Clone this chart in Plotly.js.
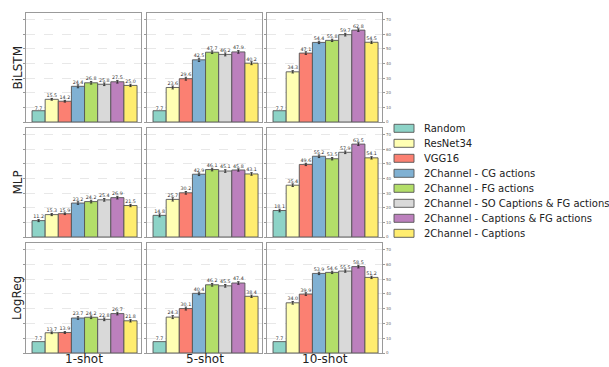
<!DOCTYPE html>
<html>
<head>
<meta charset="utf-8">
<script src="https://cdn.plot.ly/plotly-3.0.1.min.js"></script>
<style>
  html, body { margin: 0; padding: 0; background: #fff; }
  #chart { width: 609px; height: 367px; }
</style>
</head>
<body>
<div id="chart"></div>
<script>
// Methods and colours (same order as the legend)
const methods = [
  "Random",
  "ResNet34",
  "VGG16",
  "2Channel - CG actions",
  "2Channel - FG actions",
  "2Channel - SO Captions & FG actions",
  "2Channel - Captions & FG actions",
  "2Channel - Captions"
];
const methodColors = ["#8dd3c7", "#ffffb3", "#fb8072", "#80b1d3", "#b3de69", "#d9d9d9", "#bc80bd", "#ffed6f"];

const models = ["BiLSTM", "MLP", "LogReg"];
const shots = ["1-shot", "5-shot", "10-shot"];

// Accuracy values
const bilstm1Shot = [7.7, 15.5, 14.2, 24.4, 26.8, 25.8, 27.5, 25.0];
const bilstm5Shot = [7.7, 23.6, 29.6, 42.5, 47.7, 46.2, 47.9, 40.2];
const bilstm10Shot = [7.7, 34.3, 47.1, 54.4, 55.8, 59.7, 62.8, 54.5];
const mlp1Shot = [11.2, 15.3, 15.9, 23.2, 24.2, 25.4, 26.9, 21.5];
const mlp5Shot = [14.8, 25.7, 30.2, 42.9, 46.1, 45.1, 45.8, 43.1];
const mlp10Shot = [18.1, 35.4, 49.6, 55.2, 53.5, 57.9, 63.5, 54.1];
const logreg1Shot = [7.7, 13.7, 13.9, 23.7, 24.2, 22.8, 26.7, 21.8];
const logreg5Shot = [7.7, 24.3, 30.1, 40.4, 46.2, 45.5, 47.4, 38.4];
const logreg10Shot = [7.7, 34.0, 39.9, 53.9, 54.6, 55.5, 58.5, 51.2];

// Estimated error bar half-widths
const bilstm1Err = [0.0, 0.6, 0.6, 1.0, 0.9, 0.9, 0.9, 0.8];
const bilstm5Err = [0.0, 1.0, 1.0, 1.1, 0.9, 1.0, 0.9, 1.0];
const bilstm10Err = [0.0, 0.8, 0.9, 0.8, 0.8, 0.9, 0.9, 0.8];
const mlp1Err = [0.7, 0.7, 0.6, 0.9, 0.9, 0.9, 0.9, 0.8];
const mlp5Err = [1.0, 1.1, 0.9, 0.9, 0.9, 0.9, 0.8, 0.9];
const mlp10Err = [0.9, 0.9, 0.8, 0.9, 0.8, 0.9, 0.9, 0.8];
const logreg1Err = [0.0, 0.6, 0.6, 0.9, 0.9, 0.9, 0.9, 0.8];
const logreg5Err = [0.0, 1.0, 1.0, 0.9, 0.9, 0.9, 0.9, 0.8];
const logreg10Err = [0.0, 0.9, 0.9, 0.8, 0.8, 0.8, 0.9, 0.8];

const panelValues = [
  [bilstm1Shot, bilstm5Shot, bilstm10Shot],
  [mlp1Shot, mlp5Shot, mlp10Shot],
  [logreg1Shot, logreg5Shot, logreg10Shot]
];
const panelErrors = [
  [bilstm1Err, bilstm5Err, bilstm10Err],
  [mlp1Err, mlp5Err, mlp10Err],
  [logreg1Err, logreg5Err, logreg10Err]
];

const W = 609, H = 367;
// panel pixel boxes
const colBox = [[26, 141], [147, 262], [267, 382]];
const rowBox = [[13, 122], [128, 237], [243, 353]];

const traces = [];
const layout = {
  width: W,
  height: H,
  margin: { l: 0, r: 0, t: 0, b: 0 },
  paper_bgcolor: "#ffffff",
  plot_bgcolor: "#ffffff",
  font: { family: "DejaVu Sans, sans-serif", color: "#222" },
  barmode: "overlay",
  showlegend: false,
  annotations: [],
  shapes: []
};

for (let r = 0; r < 3; r++) {
  for (let c = 0; c < 3; c++) {
    const p = r * 3 + c + 1;
    const xName = p === 1 ? "x" : "x" + p;
    const yName = p === 1 ? "y" : "y" + p;
    const values = panelValues[r][c];
    const errs = panelErrors[r][c];

    methods.forEach((name, m) => {
      traces.push({
        type: "bar",
        x: [m],
        y: [values[m]],
        width: 1,
        name: name,
        xaxis: xName,
        yaxis: yName,
        marker: { color: methodColors[m], line: { color: "#555555", width: 0.9 } },
        error_y: {
          type: "data",
          array: [errs[m]],
          visible: errs[m] > 0,
          color: "#222222",
          thickness: 0.8,
          width: 1.2
        },
        hoverinfo: "skip"
      });
    });

    traces.push({
      type: "scatter",
      mode: "text",
      x: values.map((v, i) => i),
      y: values.map((v, i) => v + errs[i]),
      text: values.map((v) => v.toFixed(1)),
      textposition: "top center",
      textfont: { size: 4.8, color: "#333333" },
      hoverinfo: "skip",
      cliponaxis: false,
      xaxis: xName,
      yaxis: yName
    });

    const xKey = p === 1 ? "xaxis" : "xaxis" + p;
    const yKey = p === 1 ? "yaxis" : "yaxis" + p;
    layout[xKey] = {
      domain: [colBox[c][0] / W, colBox[c][1] / W],
      anchor: yName,
      range: [-0.96, 7.8],
      showticklabels: false,
      ticks: "",
      showgrid: false,
      zeroline: false,
      showline: true,
      mirror: true,
      linecolor: "#9a9a9a",
      linewidth: 1.2,
      fixedrange: true
    };
    layout[yKey] = {
      domain: [1 - rowBox[r][1] / H, 1 - rowBox[r][0] / H],
      anchor: xName,
      range: [0, 74.5],
      dtick: 10,
      showgrid: true,
      gridcolor: "#e2e2e2",
      griddash: "dash",
      gridwidth: 0.8,
      zeroline: false,
      showline: true,
      mirror: c === 2 ? "ticks" : true,
      linecolor: "#9a9a9a",
      linewidth: 1.2,
      ticks: "outside",
      ticklen: 2,
      tickcolor: "#9a9a9a",
      side: c === 2 ? "right" : "left",
      showticklabels: c === 2,
      tickfont: { size: 4, color: "#666" },
      fixedrange: true
    };
  }
}

// legend drawn as patches + labels
methods.forEach((name, m) => {
  const yc = 128.3 + m * 15.0;
  layout.shapes.push({
    type: "rect",
    xref: "paper",
    yref: "paper",
    x0: 394 / W,
    x1: 414 / W,
    y0: 1 - (yc + 4) / H,
    y1: 1 - (yc - 4) / H,
    fillcolor: methodColors[m],
    line: { color: "#555555", width: 0.9 }
  });
  layout.annotations.push({
    text: name,
    xref: "paper",
    yref: "paper",
    x: 422 / W,
    y: 1 - yc / H,
    xanchor: "left",
    yanchor: "middle",
    showarrow: false,
    font: { size: 10, color: "#222" }
  });
});

models.forEach((name, r) => {
  layout.annotations.push({
    text: name,
    xref: "paper",
    yref: "paper",
    x: 17 / W,
    y: 1 - (rowBox[r][0] + rowBox[r][1]) / 2 / H,
    xanchor: "center",
    yanchor: "middle",
    textangle: -90,
    showarrow: false,
    font: { size: 12, color: "#222" }
  });
});

shots.forEach((name, c) => {
  layout.annotations.push({
    text: name,
    xref: "paper",
    yref: "paper",
    x: (colBox[c][0] + colBox[c][1]) / 2 / W,
    y: 1 - 359 / H,
    xanchor: "center",
    yanchor: "middle",
    showarrow: false,
    font: { size: 12, color: "#222" }
  });
});

Plotly.newPlot("chart", traces, layout, { displayModeBar: false, staticPlot: true });
</script>
</body>
</html>
